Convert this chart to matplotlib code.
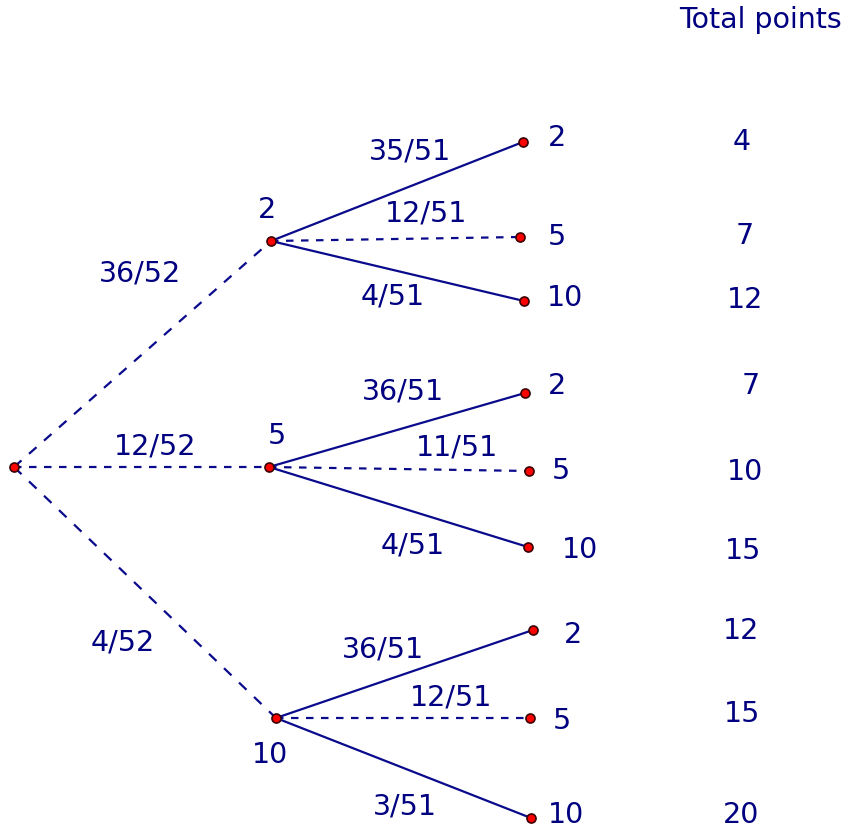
import math
import matplotlib
matplotlib.use("Agg")
import matplotlib.pyplot as plt

# ---- data ----
first_values = [2, 5, 10]
first_probs = ["36/52", "12/52", "4/52"]
second_values = [2, 5, 10]
second_probs = [["35/51", "12/51", "4/51"],
                ["36/51", "11/51", "4/51"],
                ["36/51", "12/51", "3/51"]]
totals = [[4, 7, 12], [7, 10, 15], [12, 15, 20]]
header = "Total points"

# ---- layout (pixel coordinates) ----
root = (14, 467)
mid_nodes = [(271, 241), (269, 467), (276, 718)]
leaf_nodes = [[(523, 142), (520, 237), (524, 301)],
              [(525, 393), (529, 471), (528, 547)],
              [(533, 630), (530, 718), (531, 818)]]
mid_label_pos = [(267, 210), (277, 436), (270, 755)]
leaf_label_pos = [[(557, 138), (557, 237), (565, 298)],
                  [(557, 386), (561, 471), (580, 550)],
                  [(573, 635), (562, 721), (566, 815)]]
total_pos = [[(742, 142), (745, 236), (745, 300)],
             [(751, 386), (745, 472), (743, 551)],
             [(741, 631), (742, 714), (741, 815)]]
fp_pos = [(140, 273), (155, 446), (123, 642)]
sp_pos = [[(410, 151), (426, 213), (393, 296)],
          [(403, 391), (457, 447), (413, 545)],
          [(383, 649), (451, 697), (405, 806)]]

navy = "#000080"
line_c = "#0a0a8c"
fs = 20.5
lw = 1.6

fig = plt.figure(figsize=(8.5, 8.3), dpi=100)
ax = fig.add_axes([0, 0, 1, 1])
ax.set_xlim(0, 850)
ax.set_ylim(830, 0)
ax.axis("off")


def edge(p, q, dashed):
    if dashed:
        dx, dy = q[0] - p[0], q[1] - p[1]
        scale = math.hypot(dx, dy) / abs(dx)
        unit = 7.5 * scale / (lw * 100 / 72)
        ls = (0, (unit, unit))
    else:
        ls = "-"
    ax.plot([p[0], q[0]], [p[1], q[1]], color=line_c, lw=lw,
            linestyle=ls, zorder=1,
            solid_capstyle="butt", dash_capstyle="butt")


def dot(p):
    ax.plot(p[0], p[1], "o", ms=6.5, mfc="#ff0000", mec="#3a0000", mew=1.2, zorder=3)


def label(pos, s):
    ax.text(pos[0], pos[1], s, color=navy, fontsize=fs, ha="center", va="center")


for i, m in enumerate(mid_nodes):
    edge(root, m, True)
    label(fp_pos[i], first_probs[i])
    label(mid_label_pos[i], str(first_values[i]))
    for j, lf in enumerate(leaf_nodes[i]):
        edge(m, lf, j == 1)
        dot(lf)
        label(sp_pos[i][j], second_probs[i][j])
        label(leaf_label_pos[i][j], str(second_values[j]))
        label(total_pos[i][j], str(totals[i][j]))
    dot(m)
dot(root)

label((761, 20), header)

fig.savefig("out.png", dpi=100)
